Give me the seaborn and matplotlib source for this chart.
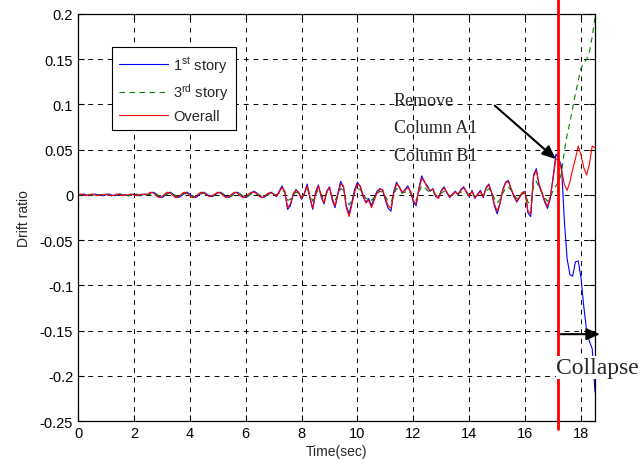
import numpy as np
import pandas as pd
import matplotlib
matplotlib.use("Agg")
import matplotlib.pyplot as plt
import seaborn as sns
from matplotlib.ticker import FuncFormatter

# tiempo (s), paso de 0.1 s entre 0 y 18.5
time = np.round(np.arange(0, 18.55, 0.1), 2)

# drift ratio en milesimas
story1 = [0, 0, 1, 0, -1, 0, 1, 0, 0, -1, 0, 1, 0, -1, 0, 1, 0, 0, -1, 0, 1, 0, -1, 0, 1,
          0, 2, 3, 1, -2, -3, -1, 2, 3, 1, -2, -3, -1, 2, 3, 1, -2, -3, -1, 2, 3, 1, -1, -2, 0,
          2, 3, 1, -2, -3, -1, 2, 3, 1, -2, -3, -1, 2, 4, 2, -1, -3, -2, 1, 3,
          1, -2, 4, 10, 3, -16, -12, 0, 6, 2,
          -5, 2, 12, -4, -16, 3, 11, -2, -10, 4,
          9, -6, -14, 2, 15, 8, -12, -21, -8, 6,
          14, 9, -2, -8, -4, -12, -3, 4, 7, 5,
          -6, -15, -18, 4, 14, 8, 2, 6, 10, 3,
          -8, -12, 8, 21, 14, 10, 4, 7, -2, -3,
          5, 9, 2, -3, 1, 4, 0, 6, 9, 3,
          -2, 5, -4, 1, 5, -3, 8, 12, 2, -12,
          -21, -10, 6, 14, 16, 6, -2, -8, -3, 2,
          4, -20, -24, 22, 29, 10, 2, -8, -15, -4,
          20, 45, 40, 32, -27, -70, -88, -90, -74, -73,
          -92, -124, -150, -162, -170, -218]

story3 = [0, 0, 0, 1, 0, 0, -1, 0, 0, 1, 0, 0, -1, 0, 0, 1, 0, 0, -1, 0, 0, 1, 0, 0, -1,
          0, 1, 2, 1, -1, -2, -1, 1, 2, 1, -1, -2, -1, 1, 2, 1, -1, -2, -1, 1, 2, 1, 0, -1, 0,
          1, 2, 1, -1, -2, -1, 1, 2, 1, -1, -2, -1, 1, 2, 1, 0, -2, -1, 0, 2,
          1, 0, 2, 5, 3, -6, -5, 0, 3, 2,
          -2, 1, 6, 1, -7, 0, 6, 1, -5, 2,
          5, -2, -6, 0, 7, 5, -6, -11, -6, 2,
          7, 6, 1, -4, -3, -6, -3, 1, 4, 3,
          -2, -7, -8, 1, 7, 5, 2, 3, 5, 2,
          -3, -6, 3, 10, 8, 5, 3, 3, 0, -2,
          2, 4, 2, -1, 0, 2, 1, 3, 4, 2,
          -1, 2, -2, 0, 2, -1, 4, 7, 3, -4,
          -9, -5, 2, 7, 9, 5, 0, -4, -2, 1,
          2, -8, -10, 10, 15, 8, 2, -3, -7, -3,
          5, 10, 14, 24, 48, 66, 80, 96, 112, 126,
          140, 146, 150, 158, 175, 196]

overall = [0, 1, 0, -1, 0, 1, 0, -1, 0, 0, 1, 0, -1, 0, 1, 0, -1, 0, 0, 1, 0, -1, 0, 1, 0,
           1, 3, 2, -1, -3, -2, 1, 3, 2, -1, -3, -2, 1, 3, 2, -1, -3, -2, 1, 3, 2, 0, -2, -1, 1,
           3, 2, -1, -3, -2, 1, 3, 2, -1, -3, -2, 1, 3, 3, 1, -2, -3, -1, 2, 2,
           1, -1, 3, 8, 4, -14, -10, 1, 5, 3,
           -4, 1, 10, -2, -15, 1, 10, 0, -9, 3,
           8, -4, -12, 0, 12, 10, -14, -24, -11, 3,
           12, 10, 0, -9, -6, -14, -6, 2, 6, 6,
           -4, -12, -15, 2, 12, 9, 3, 5, 8, 4,
           -6, -10, 6, 18, 15, 8, 5, 6, -1, -4,
           4, 8, 3, -2, 0, 3, 1, 5, 8, 4,
           -1, 4, -3, 0, 4, -2, 7, 11, 3, -10,
           -18, -9, 5, 13, 15, 7, -1, -7, -2, 3,
           3, -18, -21, 20, 27, 12, 3, -6, -13, -2,
           18, 40, 38, 28, 12, 5, 14, 28, 40, 54,
           44, 30, 22, 34, 54, 52]

labels = ["1$^{st}$ story", "3$^{rd}$ story", "Overall"]
yticks = [0.2, 0.15, 0.1, 0.05, 0, -0.05, -0.1, -0.15, -0.2, -0.25]
xticks = [0, 2, 4, 6, 8, 10, 12, 14, 16, 18]
t_remove = 17.17

df = pd.DataFrame({"time": time,
                   "s1": np.array(story1) / 1000,
                   "s3": np.array(story3) / 1000,
                   "ov": np.array(overall) / 1000})

sns.set_style("ticks")
plt.rcParams["font.family"] = ["Liberation Sans", "DejaVu Sans"]
plt.rcParams["mathtext.default"] = "regular"
plt.rcParams["xtick.direction"] = "in"
plt.rcParams["ytick.direction"] = "in"

fig = plt.figure(figsize=(6.42, 4.6), dpi=100)
ax = fig.add_axes([0.1215, 0.0826, 0.8053, 0.8848])

sns.lineplot(data=df, x="time", y="s1", color="#0000ff", linewidth=0.8, label=labels[0], ax=ax)
sns.lineplot(data=df, x="time", y="s3", color="#008000", linewidth=0.8, label=labels[1], ax=ax,
             linestyle=(0, (5, 4)))
sns.lineplot(data=df, x="time", y="ov", color="#ff0000", linewidth=0.8, label=labels[2], ax=ax)

ax.set_xlim(0, 18.5)
ax.set_ylim(-0.25, 0.2)
ax.set_xticks(xticks)
ax.set_yticks(yticks)
ax.yaxis.set_major_formatter(FuncFormatter(lambda v, p: "%g" % v))
ax.tick_params(labelsize=10.5, top=True, right=True, length=4, width=0.8, colors="black")
ax.grid(True, color="black", linestyle=(0, (5, 5)), linewidth=0.7)
for s in ax.spines.values():
    s.set_linewidth(0.9)
    s.set_color("black")
ax.set_xlabel("Time(sec)", fontsize=10, labelpad=3)
ax.set_ylabel("Drift ratio", fontsize=10, labelpad=6)

leg = ax.legend(loc="upper left", bbox_to_anchor=(0.066, 0.919), fontsize=10.5, fancybox=False,
                framealpha=1, edgecolor="black", handlelength=3.3, borderpad=0.5,
                labelspacing=0.45, borderaxespad=0, handletextpad=0.4)
leg.get_frame().set_linewidth(0.8)

# linea roja de remocion de columnas
ax.plot([t_remove, t_remove], [0.2166, -0.259], color="red", linewidth=2, clip_on=False, zorder=5)

ax.annotate("", xy=(t_remove, 0.0376), xytext=(14.84, 0.1007),
            arrowprops=dict(arrowstyle="-|>,head_length=0.8,head_width=0.35", color="black", lw=1.5),
            zorder=6)
ax.text(11.3, 0.114, "Remove\nColumn A1\nColumn B1", family=["Liberation Serif"], fontsize=13,
        va="top", ha="left", linespacing=1.8)

ax.annotate("", xy=(18.78, -0.154), xytext=(t_remove, -0.154),
            arrowprops=dict(arrowstyle="-|>,head_length=0.8,head_width=0.35", color="black", lw=1.5),
            annotation_clip=False, zorder=6)
ax.text(17.12, -0.191, "Collapse", family=["Liberation Serif"], fontsize=17, va="center", ha="left",
        clip_on=False, zorder=7, bbox=dict(facecolor="white", edgecolor="none", pad=0.5))

fig.savefig("out.png", dpi=100)
